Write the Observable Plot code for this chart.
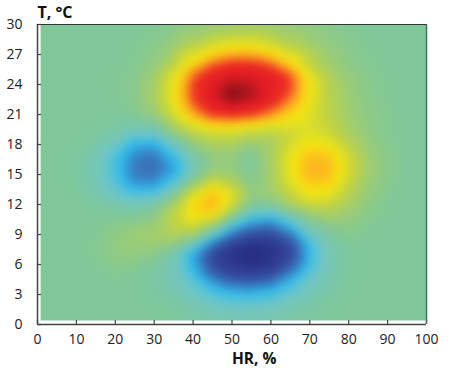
<!DOCTYPE html>
<html><head><meta charset="utf-8">
<script src="https://cdn.jsdelivr.net/npm/d3@7"></script>
<script src="https://cdn.jsdelivr.net/npm/@observablehq/plot@0.6"></script>
<style>body{margin:0;background:#fff}</style></head><body>
<script>
const hrGrid = [0,5,10,15,20,25,30,35,40,45,50,55,60,65,70,75,80,85,90,95,100];
const tempGrid = [32,30,28,26,25,24,23,22,21,20,19,18,17,16,15,14,13,12,11,10,9,8,7,6,5,4,3,2,1,-1];
const intensity = [
[0,0,0,0,0,0,0,0,0,0,0,0,0,0,0,0,0,0,0,0,0],
[0,0,0,0,0,0,.01,.02,.04,.07,.09,.1,.09,.07,.05,.03,.01,0,0,0,0],
[0,0,0,0,0,.01,.04,.1,.2,.3,.36,.36,.3,.2,.12,.07,.03,.01,0,0,0],
[0,0,0,0,0,.02,.08,.22,.46,.64,.72,.72,.64,.47,.24,.12,.05,.02,0,0,0],
[0,0,0,0,.01,.03,.12,.34,.62,.76,.83,.83,.77,.64,.35,.17,.08,.03,.01,0,0],
[0,0,0,0,.01,.04,.14,.38,.68,.82,.93,.9,.8,.68,.4,.2,.09,.04,.01,0,0],
[0,0,0,0,.01,.04,.15,.39,.68,.85,1,.93,.79,.64,.38,.2,.1,.04,.01,0,0],
[0,0,0,0,0,.03,.13,.37,.64,.79,.88,.84,.72,.56,.35,.21,.11,.05,.01,0,0],
[0,0,0,0,-.01,.01,.08,.3,.54,.7,.74,.7,.58,.44,.32,.22,.12,.05,.02,0,0],
[0,0,0,-.01,-.02,-.06,-.04,.18,.36,.46,.48,.42,.36,.34,.32,.25,.14,.06,.02,0,0],
[0,0,0,-.02,-.07,-.18,-.18,.05,.2,.27,.28,.22,.2,.27,.33,.28,.16,.07,.02,0,0],
[0,0,-.01,-.06,-.16,-.36,-.38,-.15,.08,.16,.16,.08,.13,.3,.41,.38,.22,.09,.03,0,0],
[0,0,-.02,-.09,-.26,-.46,-.5,-.3,-.03,.08,.08,.0,.15,.36,.5,.48,.28,.11,.04,0,0],
[0,0,-.03,-.11,-.3,-.5,-.54,-.4,-.1,.08,.08,-.02,.15,.38,.54,.52,.3,.12,.04,0,0],
[0,0,-.03,-.11,-.28,-.5,-.52,-.38,-.08,.13,.1,0,.14,.37,.54,.52,.3,.12,.04,0,0],
[0,0,-.02,-.1,-.24,-.42,-.43,-.2,.12,.34,.2,.03,.13,.32,.47,.45,.25,.1,.03,0,0],
[0,0,-.01,-.07,-.16,-.26,-.24,-.02,.33,.52,.34,.06,.1,.25,.38,.36,.2,.08,.02,0,0],
[0,0,0,-.03,-.08,-.12,-.06,.15,.46,.54,.28,.0,.0,.16,.28,.26,.15,.06,.01,0,0],
[0,0,0,0,-.01,-.02,.04,.24,.44,.44,.08,-.2,-.24,-.06,.1,.16,.1,.04,.01,0,0],
[0,0,0,0,.03,.06,.1,.24,.33,.16,-.22,-.45,-.5,-.28,-.03,.06,.06,.02,0,0,0],
[0,0,0,.01,.06,.1,.14,.2,.15,-.16,-.52,-.68,-.7,-.52,-.15,-.02,.03,.01,0,0,0],
[0,0,0,.02,.07,.1,.11,.07,-.13,-.52,-.76,-.9,-.85,-.68,-.3,-.07,0,0,0,0,0],
[0,0,0,.02,.06,.07,.04,-.08,-.38,-.72,-.92,-1,-.9,-.72,-.32,-.1,-.02,0,0,0,0],
[0,0,0,.01,.04,.03,-.01,-.12,-.36,-.68,-.84,-.9,-.84,-.62,-.3,-.11,-.02,0,0,0,0],
[0,0,0,0,.02,0,-.04,-.12,-.3,-.58,-.72,-.76,-.7,-.45,-.22,-.09,-.02,0,0,0,0],
[0,0,0,0,0,0,-.04,-.1,-.22,-.38,-.5,-.53,-.47,-.3,-.16,-.07,-.01,0,0,0,0],
[0,0,0,0,0,0,-.03,-.07,-.15,-.25,-.32,-.33,-.3,-.2,-.11,-.05,-.01,0,0,0,0],
[0,0,0,0,0,0,-.01,-.04,-.1,-.16,-.2,-.21,-.18,-.12,-.07,-.02,0,0,0,0,0],
[0,0,0,0,0,0,0,-.02,-.05,-.09,-.12,-.12,-.1,-.06,-.03,-.01,0,0,0,0,0],
[0,0,0,0,0,0,0,0,0,0,0,0,0,0,0,0,0,0,0,0,0]
];
const colorStops = [-1,-.7,-.5,-.35,-.2,0,.25,.4,.55,.7,.85,1];
const colorRamp = ["#262b80","#34479c","#3a78bd","#2bbdf0","#6cc5cc","#80c89a","#c4d440","#f5e80f","#fdb020","#ee2a24","#e01b24","#7a1216"];
const hrTicks = [0,10,20,30,40,50,60,70,80,90,100];
const tempTicks = [0,3,6,9,12,15,18,21,24,27,30];
const cells = tempGrid.flatMap((t,i)=>hrGrid.map((h,j)=>({hr:h,temp:t,v:intensity[i][j]})));
const axisColor = "#444";
const chart = Plot.plot({
  width:450, height:390, marginLeft:37, marginRight:24, marginTop:24, marginBottom:66,
  style:{fontFamily:"'Open Sans',sans-serif", background:"#fff"},
  x:{domain:[0,100]}, y:{domain:[0,30]},
  color:{type:"linear", domain:colorStops, range:colorRamp},
  marks:[
    Plot.raster(cells,{x:"hr",y:"temp",fill:"v",interpolate:"barycentric",pixelSize:3,blur:0.8,
      x1:0.8,x2:100,y1:0.4,y2:30,imageRendering:"auto"}),
    Plot.axisX({ticks:hrTicks,tickSize:-4,tickPadding:14,tickFormat:d=>d,fontSize:14,color:"#222",stroke:axisColor,strokeWidth:1.2,label:null}),
    Plot.axisY({ticks:tempTicks,tickSize:-4,tickPadding:19,tickFormat:d=>d,fontSize:14,color:"#222",stroke:axisColor,strokeWidth:1.2,label:null}),
    Plot.ruleX([0],{stroke:axisColor,strokeWidth:1.5}),
    Plot.ruleX([100],{stroke:"#46705a",strokeWidth:1.5}),
    Plot.ruleY([0],{stroke:axisColor,strokeWidth:1.5}),
    Plot.ruleY([30],{stroke:"#333",strokeWidth:1.2}),
    Plot.text(["HR, %"],{x:[50],frameAnchor:"bottom",lineAnchor:"middle",dy:35,textAnchor:"start",fontWeight:700,fontSize:15.5,fill:"#111"}),
    Plot.text(["T, °C"],{x:[0],frameAnchor:"top",lineAnchor:"middle",dy:-12,textAnchor:"start",fontWeight:700,fontSize:16,fill:"#111"})
  ]
});
document.body.append(chart);
</script></body></html>
